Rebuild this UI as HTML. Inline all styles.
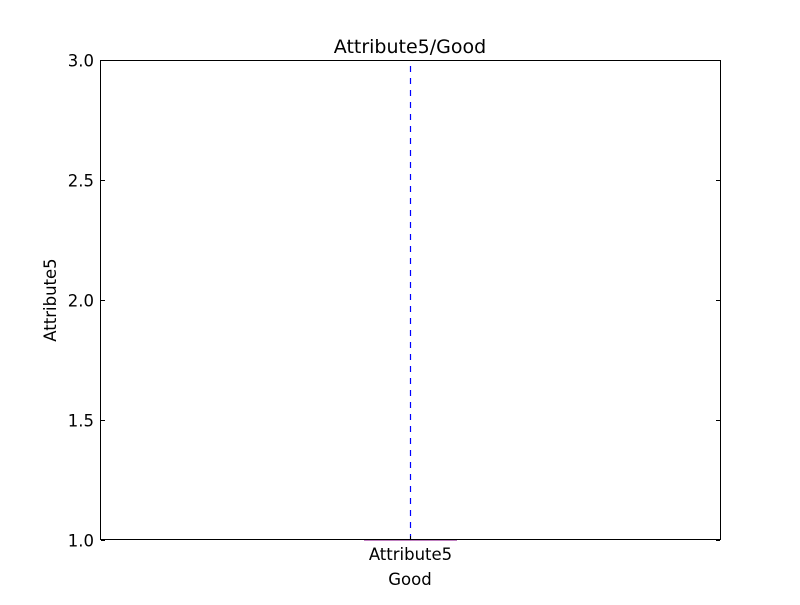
<!DOCTYPE html>
<html><head><meta charset="utf-8"><style>
body{margin:0;background:#fff}
svg{font-family:"DejaVu Sans","Liberation Sans",sans-serif}
</style></head><body>
<svg id="chart" width="800" height="600">
<rect width="800" height="600" fill="#fff"/>
<g id="marks"></g>
<rect x="100.5" y="60.5" width="620" height="479" fill="none" stroke="#000" stroke-width="1"/>
<g id="ticks"></g>
<text x="410" y="53" font-size="19" text-anchor="middle">Attribute5/Good</text>
<text x="410" y="585" font-size="16.5" text-anchor="middle">Good</text>
<text x="56" y="300" font-size="16.5" text-anchor="middle" transform="rotate(-90 56 300)">Attribute5</text>
</svg>
<script>
const categories=["Attribute5"];
const q1=[1.0];
const medians=[1.0];
const q3=[1.0];
const whiskLow=[1.0];
const whiskHigh=[3.0];
const yTicks=[1.0,1.5,2.0,2.5,3.0];
const yTickLabels=["1.0","1.5","2.0","2.5","3.0"];
const NS="http://www.w3.org/2000/svg";
const L=100,R=720,T=60,B=540,yMin=1,yMax=3;
const y=v=>B-(v-yMin)/(yMax-yMin)*(B-T);
const x=i=>L+(i+0.5)*(R-L)/categories.length;
const marks=document.getElementById('marks'),ticks=document.getElementById('ticks');
function line(p,x1,y1,x2,y2,st,w,dash){const l=document.createElementNS(NS,'line');l.setAttribute('x1',x1);l.setAttribute('y1',y1);l.setAttribute('x2',x2);l.setAttribute('y2',y2);l.setAttribute('stroke',st);l.setAttribute('stroke-width',w||1);if(dash)l.setAttribute('stroke-dasharray',dash);p.appendChild(l);return l;}
function text(p,x0,y0,s,anchor){const t=document.createElementNS(NS,'text');t.setAttribute('x',x0);t.setAttribute('y',y0);t.setAttribute('font-size','16.5');t.setAttribute('text-anchor',anchor);t.textContent=s;p.appendChild(t);return t;}
yTicks.forEach((v,i)=>{const yy=Math.round(y(v))+0.5;
let a=line(ticks,101,yy,105,yy,'#000');
let b=line(ticks,716,yy,720,yy,'#000');
let t=text(ticks,94,yy+6,yTickLabels[i],'end');});
categories.forEach((c,i)=>{const cx=x(i)+0.5,bw=93,cw=46;
let w1=line(marks,cx,y(q3[i]),cx,y(whiskHigh[i]),'#0000ff',1.2,'6,6');
let w2=line(marks,cx,y(q1[i]),cx,y(whiskLow[i]),'#0000ff',1.2,'6,6');
let c1=line(marks,cx-cw/2,y(whiskHigh[i])+0.5,cx+cw/2,y(whiskHigh[i])+0.5,'#000',1);
let c2=line(marks,cx-cw/2,y(whiskLow[i]),cx+cw/2,y(whiskLow[i]),'#000',1);
const r=document.createElementNS(NS,'rect');r.setAttribute('x',cx-bw/2);r.setAttribute('y',y(q3[i]));r.setAttribute('width',bw);r.setAttribute('height',Math.max(0,y(q1[i])-y(q3[i])));r.setAttribute('fill','none');r.setAttribute('stroke','#0000ff');marks.appendChild(r);


let m=line(marks,cx-bw/2,y(medians[i]),cx+bw/2,y(medians[i]),'#800080',1);
let tk=line(ticks,cx,540,cx,536,'#000');
let tl=text(ticks,cx,560,c,'middle');});
</script>
</body></html>
